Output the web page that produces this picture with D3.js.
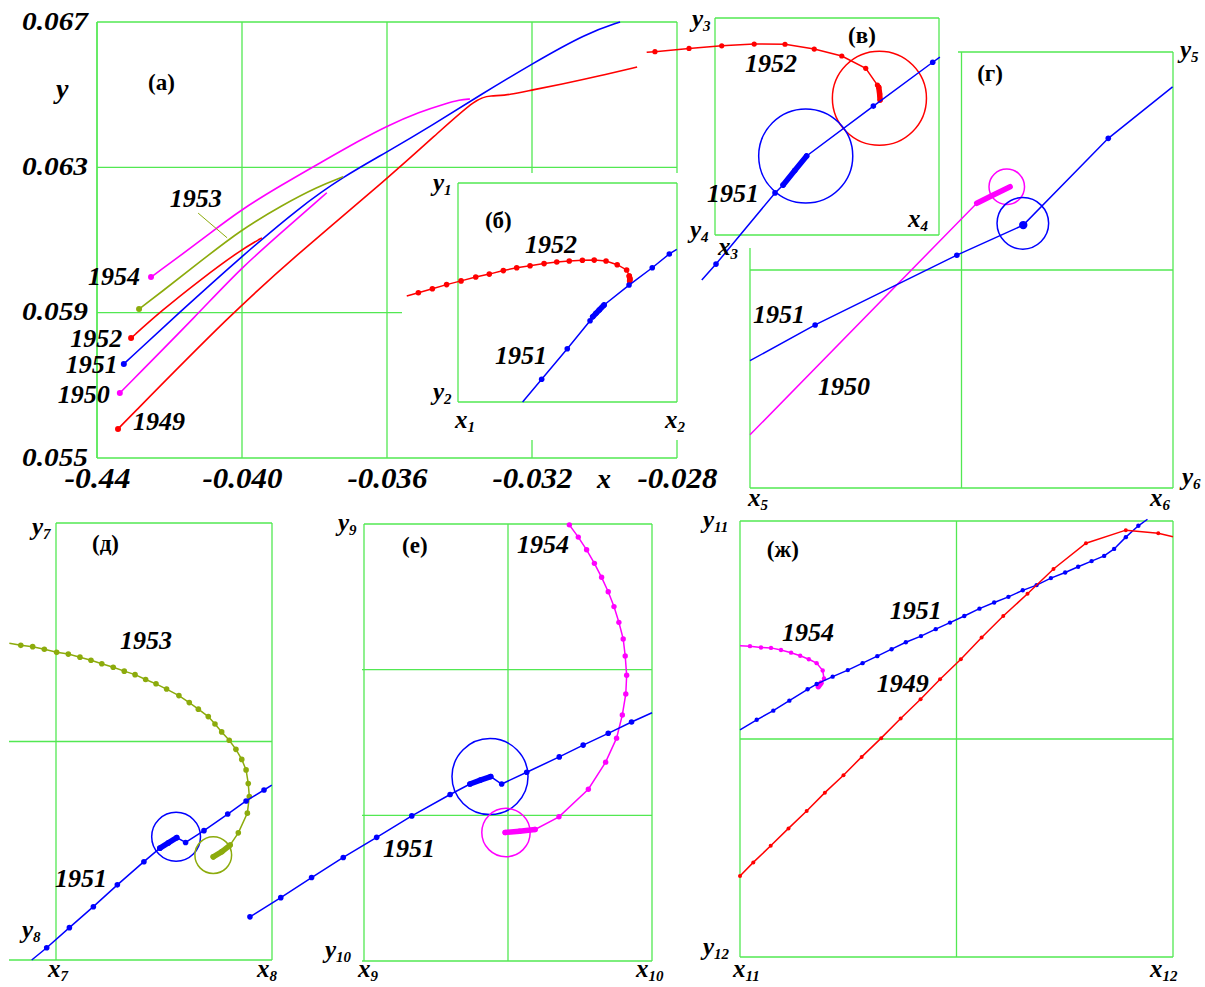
<!DOCTYPE html>
<html>
<head>
<meta charset="utf-8">
<script src="https://cdn.jsdelivr.net/npm/d3@7/dist/d3.min.js"></script>
<style>
  html, body { margin: 0; padding: 0; background: #ffffff; }
  svg { display: block; }
  svg text { font-family: "Liberation Serif", "Tinos", "Times New Roman", "DejaVu Serif", "Noto Serif", serif; }
</style>
</head>
<body>
<svg id="fig" width="1205" height="987"></svg>
<script>
// ===== Panel (а): trajectories in real (x, y) units =====
const xTicksA = [-0.044, -0.040, -0.036, -0.032, -0.028];
const xTickLabelsA = ["-0.44", "-0.040", "-0.036", "-0.032", "-0.028"];
const yTicksA = [0.055, 0.059, 0.063, 0.067];
const yTickLabelsA = ["0.055", "0.059", "0.063", "0.067"];

const a1949x = [-0.04342, -0.04025, -0.0384, -0.036, -0.03454, -0.03352, -0.03316, -0.03261, -0.032, -0.03103, -0.03012, -0.0291];
const a1949y = [0.0558, 0.05902, 0.06067, 0.06268, 0.064, 0.06491, 0.06497, 0.06499, 0.06513, 0.06532, 0.06552, 0.06576];
const a1950x = [-0.04337, -0.04116, -0.04003, -0.03868, -0.03766];
const a1950y = [0.05679, 0.05902, 0.06023, 0.06141, 0.0623];
const a1951x = [-0.04326, -0.04171, -0.04003, -0.0384, -0.03721, -0.036, -0.03473, -0.03343, -0.032, -0.03048, -0.02957];
const a1951y = [0.05759, 0.05902, 0.06053, 0.06191, 0.06274, 0.06342, 0.06417, 0.06499, 0.06585, 0.0667, 0.067];
const a1952x = [-0.04306, -0.04226, -0.04116, -0.04003, -0.03945];
const a1952y = [0.0583, 0.05902, 0.0599, 0.06073, 0.06106];
const a1953x = [-0.04284, -0.04226, -0.04116, -0.04003, -0.03887, -0.03793, -0.03721];
const a1953y = [0.0591, 0.05954, 0.0604, 0.06128, 0.06197, 0.06246, 0.06274];
const a1954x = [-0.04251, -0.04171, -0.04088, -0.04003, -0.03895, -0.03785, -0.03674, -0.036, -0.03509, -0.0344, -0.03399, -0.03371];
const a1954y = [0.05998, 0.06056, 0.06119, 0.06183, 0.06249, 0.06312, 0.06375, 0.06414, 0.06453, 0.06475, 0.06486, 0.06488];

// ===== Zoomed windows: coordinates in window units (x_k..x_k+1 -> 0..1, y_k+1..y_k -> 0..1) =====
// (б) window x1..x2, y2..y1
const b1952u = [-0.234, -0.181, -0.117, -0.052, 0.014, 0.081, 0.143, 0.207, 0.268, 0.329, 0.393, 0.451, 0.508, 0.568, 0.622, 0.676, 0.727, 0.770, 0.782, 0.785, 0.784];
const b1952v = [0.484, 0.499, 0.517, 0.536, 0.553, 0.571, 0.584, 0.600, 0.613, 0.622, 0.632, 0.639, 0.644, 0.647, 0.648, 0.644, 0.627, 0.603, 0.575, 0.562, 0.553];
const b1951u = [0.295, 0.382, 0.499, 0.603, 0.615, 0.630, 0.645, 0.667, 0.781, 0.887, 0.965, 0.999];
const b1951v = [0.000, 0.104, 0.243, 0.371, 0.389, 0.405, 0.420, 0.443, 0.534, 0.613, 0.676, 0.697];

// (в) window x3..x4, y4..y3
const v1952u = [-0.305, -0.268, -0.116, 0.030, 0.175, 0.3125, 0.443, 0.566, 0.673, 0.725, 0.731, 0.735, 0.737];
const v1952v = [0.842, 0.845, 0.860, 0.872, 0.880, 0.879, 0.857, 0.825, 0.768, 0.691, 0.681, 0.650, 0.622];
const v1951u = [-0.059, 0.0045, 0.268, 0.304, 0.356, 0.409, 0.707, 0.972, 1.004];
const v1951v = [-0.207, -0.134, 0.194, 0.230, 0.297, 0.364, 0.594, 0.796, 0.820];
const vRing1952 = [0.734, 0.630, 0.21];
const vRing1951 = [0.405, 0.364, 0.21];

// (г) window x5..x6, y6..y5
const g1951u = [0, 0.154, 0.489, 0.646, 0.847, 0.999];
const g1951v = [0.292, 0.374, 0.534, 0.603, 0.802, 0.920];
const g1950u = [0, 0.536, 0.575, 0.615];
const g1950v = [0.122, 0.653, 0.672, 0.691];
const gRing1951 = [0.645, 0.607, 0.061];
const gRing1950 = [0.607, 0.691, 0.042];

// (д) window x7..x8, y8..y7
const d1953u = [-0.216, -0.163, -0.108, -0.054, 0.003, 0.057, 0.111, 0.162, 0.212, 0.265, 0.316, 0.366, 0.415, 0.463, 0.512, 0.569, 0.617, 0.659, 0.705, 0.736, 0.767, 0.802, 0.833, 0.860, 0.880, 0.890, 0.895, 0.886, 0.844, 0.806, 0.768, 0.728];
const d1953v = [0.725, 0.720, 0.717, 0.711, 0.704, 0.700, 0.693, 0.686, 0.678, 0.670, 0.661, 0.653, 0.642, 0.632, 0.620, 0.605, 0.589, 0.574, 0.557, 0.540, 0.522, 0.503, 0.482, 0.459, 0.435, 0.404, 0.374, 0.336, 0.291, 0.263, 0.248, 0.236];
const d1951u = [-0.1125, -0.043, 0.062, 0.173, 0.284, 0.407, 0.481, 0.520, 0.559, 0.600, 0.685, 0.795, 0.880, 0.963, 0.999];
const d1951v = [0.000, 0.028, 0.074, 0.122, 0.172, 0.225, 0.256, 0.268, 0.280, 0.269, 0.296, 0.334, 0.364, 0.389, 0.400];
const dRing1951 = [0.556, 0.282, 0.113];
const dRing1953 = [0.728, 0.240, 0.085];

// (е) window x9..x10, y10..y9
const e1951u = [-0.396, -0.289, -0.182, -0.072, 0.044, 0.166, 0.299, 0.368, 0.404, 0.440, 0.478, 0.565, 0.678, 0.761, 0.848, 0.929, 1.000];
const e1951v = [0.101, 0.145, 0.191, 0.237, 0.283, 0.332, 0.381, 0.405, 0.414, 0.422, 0.405, 0.432, 0.467, 0.494, 0.521, 0.547, 0.568];
const e1954u = [0.713, 0.744, 0.773, 0.800, 0.825, 0.848, 0.868, 0.885, 0.900, 0.907, 0.912, 0.909, 0.897, 0.877, 0.839, 0.779, 0.677, 0.594, 0.540, 0.490];
const e1954v = [0.998, 0.970, 0.941, 0.910, 0.878, 0.845, 0.811, 0.775, 0.737, 0.698, 0.654, 0.611, 0.563, 0.510, 0.455, 0.393, 0.330, 0.301, 0.297, 0.294];
const eRing1951 = [0.4375, 0.422, 0.132];
const eRing1954 = [0.493, 0.294, 0.084];

// (ж) window x11..x12, y12..y11
const zh1954u = [0, 0.023, 0.0485, 0.0716, 0.0947, 0.118, 0.139, 0.159, 0.177, 0.191, 0.194, 0.187, 0.181];
const zh1954v = [0.714, 0.713, 0.710, 0.709, 0.704, 0.698, 0.691, 0.683, 0.674, 0.657, 0.639, 0.628, 0.620];
const zh1951u = [0, 0.0386, 0.0769, 0.114, 0.156, 0.177, 0.214, 0.249, 0.283, 0.317, 0.350, 0.383, 0.418, 0.452, 0.485, 0.518, 0.553, 0.587, 0.620, 0.653, 0.685, 0.718, 0.751, 0.781, 0.812, 0.841, 0.864, 0.891, 0.920, 0.941];
const zh1951v = [0.521, 0.544, 0.565, 0.588, 0.614, 0.626, 0.643, 0.658, 0.674, 0.690, 0.706, 0.722, 0.736, 0.752, 0.767, 0.782, 0.799, 0.813, 0.826, 0.841, 0.853, 0.869, 0.882, 0.895, 0.908, 0.920, 0.936, 0.963, 0.989, 1.004];
const zh1949u = [0, 0.0307, 0.0709, 0.112, 0.154, 0.196, 0.239, 0.281, 0.326, 0.371, 0.417, 0.462, 0.510, 0.558, 0.608, 0.664, 0.724, 0.799, 0.891, 0.966, 1.0];
const zh1949v = [0.186, 0.217, 0.255, 0.295, 0.335, 0.377, 0.417, 0.459, 0.502, 0.547, 0.591, 0.637, 0.683, 0.733, 0.782, 0.833, 0.890, 0.949, 0.979, 0.972, 0.964];

// ===== Drawing =====
const svg = d3.select("#fig");
svg.append("rect").attr("width", 1205).attr("height", 987).attr("fill", "#ffffff");

const GREEN = "#52e852", OLIVE = "#8cab0c", RED = "#ff0000", BLUE = "#0000ff", MAG = "#ff00ff";
const pts = (xs, ys) => xs.map((d, i) => [d, ys[i]]);

function gLine(g, x1, y1, x2, y2) {
  g.append("line").attr("x1", x1).attr("y1", y1).attr("x2", x2).attr("y2", y2)
    .attr("stroke", GREEN).attr("stroke-width", 1.3);
}
function yearText(g, text, x, y) {
  g.append("text").attr("x", x).attr("y", y).text(text)
    .attr("font-style", "italic").attr("font-weight", "bold")
    .attr("font-size", 26).attr("fill", "#000");
}
function panelTag(g, text, x, y) {
  g.append("text").attr("x", x).attr("y", y).text(text)
    .attr("font-weight", "bold").attr("font-size", 23).attr("fill", "#000");
}
function cornerText(g, letter, sub, x, y) {
  const t = g.append("text").attr("x", x).attr("y", y)
    .attr("font-style", "italic").attr("font-weight", "bold")
    .attr("font-size", 25).attr("fill", "#000");
  t.append("tspan").text(letter);
  t.append("tspan").attr("font-size", 15).attr("dy", 4).text(sub);
}

// ---- panel (а)
const A = { L: 97, R: 677, T: 22, B: 458 };
const ax = d3.scaleLinear().domain([xTicksA[0], xTicksA[xTicksA.length - 1]]).range([A.L, A.R]);
const ay = d3.scaleLinear().domain([yTicksA[0], yTicksA[yTicksA.length - 1]]).range([A.B, A.T]);
const gA = svg.append("g");

xTicksA.forEach(t => gLine(gA, ax(t), A.T, ax(t), A.B));
yTicksA.forEach(t => gLine(gA, A.L, ay(t), A.R, ay(t)));
gLine(gA, A.L, A.T, A.L, A.B);

const xAxisA = gA.append("g").attr("transform", `translate(0,${A.B})`)
  .call(d3.axisBottom(ax).tickValues(xTicksA).tickFormat((d, i) => xTickLabelsA[i]).tickSize(0));
xAxisA.select(".domain").remove();
xAxisA.attr("font-family", null);
xAxisA.selectAll("text")
  .attr("y", 30).attr("dy", 0)
  .attr("font-style", "italic").attr("font-weight", "bold")
  .attr("font-size", 30).attr("fill", "#000")
  .attr("textLength", (d, i) => i === 0 ? 66 : 80).attr("lengthAdjust", "spacingAndGlyphs");

const yAxisA = gA.append("g").attr("transform", `translate(${A.L},0)`)
  .call(d3.axisLeft(ay).tickValues(yTicksA).tickFormat((d, i) => yTickLabelsA[i]).tickSize(0));
yAxisA.select(".domain").remove();
yAxisA.attr("font-family", null);
yAxisA.selectAll("text")
  .attr("x", -9).attr("dy", 7)
  .attr("font-style", "italic").attr("font-weight", "bold")
  .attr("font-size", 26).attr("fill", "#000")
  .attr("textLength", 66).attr("lengthAdjust", "spacingAndGlyphs");

const lineA = d3.line().x(d => ax(d[0])).y(d => ay(d[1])).curve(d3.curveBasis);
const seriesA = [
  [a1949x, a1949y, RED], [a1950x, a1950y, MAG], [a1951x, a1951y, BLUE],
  [a1952x, a1952y, RED], [a1953x, a1953y, OLIVE], [a1954x, a1954y, MAG]
];
seriesA.forEach(([xs, ys, c]) => {
  const p = pts(xs, ys);
  gA.append("path").attr("d", lineA(p)).attr("fill", "none").attr("stroke", c).attr("stroke-width", 1.6);
  gA.append("circle").attr("cx", ax(p[0][0])).attr("cy", ay(p[0][1])).attr("r", 3).attr("fill", c);
});

// leader from the 1953 label to its curve
gA.append("line").attr("x1", ax(-0.04121)).attr("y1", ay(0.06174)).attr("x2", ax(-0.04041)).attr("y2", ay(0.06106))
  .attr("stroke", OLIVE).attr("stroke-width", 1);

yearText(gA, "1954", ax(-0.04425), ay(0.05976));
yearText(gA, "1953", ax(-0.04199), ay(0.06191));
yearText(gA, "1952", ax(-0.04474), ay(0.05806));
yearText(gA, "1951", ax(-0.04486), ay(0.05734));
yearText(gA, "1950", ax(-0.04508), ay(0.05651));
yearText(gA, "1949", ax(-0.04301), ay(0.05577));
panelTag(gA, "(а)", ax(-0.04259), ay(0.06513));
gA.append("text").attr("x", 56).attr("y", ay(0.06491)).text("y")
  .attr("font-style", "italic").attr("font-weight", "bold").attr("font-size", 28);
gA.append("text").attr("x", ax(-0.03021)).attr("y", 488).text("x")
  .attr("font-style", "italic").attr("font-weight", "bold").attr("font-size", 28);

// ---- zoomed windows
function inset(o) {
  const g = svg.append("g");
  if (o.cover) {
    g.append("rect").attr("x", o.cover[0]).attr("y", o.cover[1])
      .attr("width", o.cover[2] - o.cover[0]).attr("height", o.cover[3] - o.cover[1]).attr("fill", "#ffffff");
  }
  const x = d3.scaleLinear().domain([0, 1]).range([o.L, o.R]);
  const y = d3.scaleLinear().domain([0, 1]).range([o.B, o.T]);
  const xl = o.extendLeft != null ? o.extendLeft : o.L;
  const topFrom = o.topFrom != null ? o.topFrom : o.L;
  const leftFrom = o.leftFrom != null ? o.leftFrom : o.T;
  (o.gridU || []).forEach(u => gLine(g, x(u), o.T, x(u), o.B));
  (o.gridV || []).forEach(v => gLine(g, xl, y(v), o.R, y(v)));
  gLine(g, topFrom, o.T, o.R, o.T);
  gLine(g, o.R, o.T, o.R, o.B);
  gLine(g, xl, o.B, o.R, o.B);
  gLine(g, o.L, leftFrom, o.L, o.B);

  (o.rings || []).forEach(([r, c]) => {
    g.append("circle").attr("cx", x(r[0])).attr("cy", y(r[1])).attr("r", x(r[2]) - x(0))
      .attr("fill", "none").attr("stroke", c).attr("stroke-width", 1.5);
  });

  const line = d3.line().x(d => x(d[0])).y(d => y(d[1]));
  o.series.forEach(s => {
    const p = pts(s.u, s.v);
    g.append("path").attr("d", line(p)).attr("fill", "none").attr("stroke", s.c).attr("stroke-width", 1.5);
    if (s.heavy) {
      g.append("path").attr("d", line(p.slice(s.heavy[0], s.heavy[1] + 1))).attr("fill", "none")
        .attr("stroke", s.c).attr("stroke-width", 5.5).attr("stroke-linecap", "round");
    }
    if (s.dots !== false) {
      p.forEach((d, i) => {
        if (s.skip && s.skip.includes(i)) return;
        g.append("circle").attr("cx", x(d[0])).attr("cy", y(d[1]))
          .attr("r", i === s.big ? 4.2 : (s.r || 2.7)).attr("fill", s.c);
      });
    }
  });

  (o.years || []).forEach(([t, u, v]) => yearText(g, t, x(u), y(v)));
  if (o.tag) panelTag(g, o.tag[0], x(o.tag[1]), y(o.tag[2]));
  (o.corners || []).forEach(([l, s, px, py]) => cornerText(g, l, s, px, py));
  return g;
}

// (б)
inset({
  L: 458, T: 183, R: 677, B: 402, cover: [402, 173, 681, 440],
  series: [
    { u: b1952u, v: b1952v, c: RED, skip: [0], heavy: [18, 20], r: 2.8 },
    { u: b1951u, v: b1951v, c: BLUE, skip: [0, 11], heavy: [4, 7], r: 2.8 }
  ],
  years: [["1952", 0.306, 0.680], ["1951", 0.169, 0.174]],
  tag: ["(б)", 0.123, 0.795],
  corners: [["y", "1", 433, 191], ["y", "2", 433, 400], ["x", "1", 455, 428], ["x", "2", 665, 428]]
});

// (г)
inset({
  L: 750, T: 52, R: 1173, B: 488, gridU: [0.5], gridV: [0.5], topFrom: 958, leftFrom: 248,
  rings: [[gRing1950, MAG], [gRing1951, BLUE]],
  series: [
    { u: g1950u, v: g1950v, c: MAG, dots: false, heavy: [1, 3] },
    { u: g1951u, v: g1951v, c: BLUE, skip: [0, 5], big: 3, r: 2.8 }
  ],
  years: [["1951", 0.007, 0.378], ["1950", 0.161, 0.213]],
  tag: ["(г)", 0.537, 0.933],
  corners: [["y", "5", 1180, 58], ["y", "6", 1182, 485], ["x", "5", 748, 506], ["x", "6", 1150, 506]]
});

// (в)
inset({
  L: 715, T: 18, R: 939, B: 235,
  rings: [[vRing1952, RED], [vRing1951, BLUE]],
  series: [
    { u: v1952u, v: v1952v, c: RED, skip: [0], heavy: [10, 12], r: 2.6 },
    { u: v1951u, v: v1951v, c: BLUE, skip: [0, 8], heavy: [3, 5], r: 2.8 }
  ],
  years: [["1952", 0.134, 0.751], ["1951", -0.036, 0.152]],
  tag: ["(в)", 0.594, 0.885],
  corners: [["y", "3", 692, 27], ["y", "4", 690, 238], ["x", "3", 718, 255], ["x", "4", 908, 227]]
});

// (д)
inset({
  L: 56, T: 523, R: 272, B: 960, extendLeft: 9, gridV: [0.5],
  rings: [[dRing1951, BLUE], [dRing1953, OLIVE]],
  series: [
    { u: d1953u, v: d1953v, c: OLIVE, skip: [0], heavy: [29, 31], r: 2.8 },
    { u: d1951u, v: d1951v, c: BLUE, skip: [0, 14], heavy: [6, 8], r: 2.8 }
  ],
  years: [["1953", 0.296, 0.712], ["1951", -0.005, 0.167]],
  tag: ["(д)", 0.167, 0.936],
  corners: [["y", "7", 32, 535], ["y", "8", 22, 938], ["x", "7", 48, 977], ["x", "8", 257, 977]]
});

// (е)
inset({
  L: 364, T: 524, R: 652, B: 961, extendLeft: 362, gridU: [0.5], gridV: [1 / 3, 2 / 3],
  rings: [[eRing1951, BLUE], [eRing1954, MAG]],
  series: [
    { u: e1954u, v: e1954v, c: MAG, heavy: [17, 19], r: 2.7 },
    { u: e1951u, v: e1951v, c: BLUE, skip: [16], heavy: [7, 9], r: 2.8 }
  ],
  years: [["1954", 0.531, 0.934], ["1951", 0.066, 0.238]],
  tag: ["(е)", 0.132, 0.934],
  corners: [["y", "9", 338, 531], ["y", "10", 325, 958], ["x", "9", 358, 977], ["x", "10", 636, 977]]
});

// (ж)
inset({
  L: 740, T: 521, R: 1173, B: 957, gridU: [0.5], gridV: [0.5],
  series: [
    { u: zh1954u, v: zh1954v, c: MAG, skip: [0], heavy: [11, 12], r: 2.2 },
    { u: zh1951u, v: zh1951v, c: BLUE, skip: [0, 29], r: 2.2 },
    { u: zh1949u, v: zh1949v, c: RED, skip: [20], r: 2.0 }
  ],
  years: [["1954", 0.097, 0.725], ["1951", 0.346, 0.775], ["1949", 0.316, 0.608]],
  tag: ["(ж)", 0.062, 0.917],
  corners: [["y", "11", 703, 528], ["y", "12", 703, 955], ["x", "11", 733, 977], ["x", "12", 1150, 977]]
});
</script>
</body>
</html>
